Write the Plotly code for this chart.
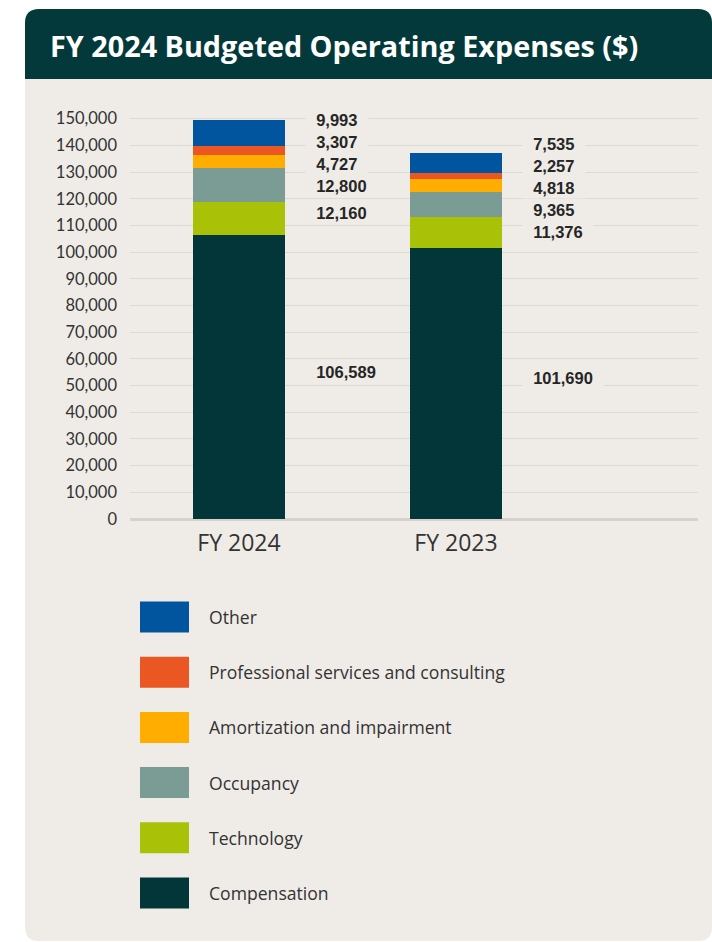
import plotly.graph_objects as go

# ---- data -------------------------------------------------------------
categories = ["FY 2024", "FY 2023"]
series_names = [
    "Compensation",
    "Technology",
    "Occupancy",
    "Amortization and impairment",
    "Professional services and consulting",
    "Other",
]
compensation = [106589, 101690]
technology = [12160, 11376]
occupancy = [12800, 9365]
amortization = [4727, 4818]
professional = [3307, 2257]
other = [9993, 7535]
series_colors = ["#023638", "#A9C208", "#7A9C95", "#FFAE00", "#EB5722", "#01559E"]
y_tick_values = list(range(0, 150001, 10000))

series_values = [compensation, technology, occupancy, amortization, professional, other]

# ---- page geometry (pixels) --------------------------------------------
FIG_W, FIG_H = 712, 942
PLOT_L, PLOT_R, PLOT_T, PLOT_B = 130, 698, 100, 519
PLOT_W, PLOT_H = PLOT_R - PLOT_L, PLOT_B - PLOT_T
Y_MAX = 157000
UNITS_PER_PX = Y_MAX / PLOT_H

CARD_BG = "#EFECE8"
HEADER_BG = "#03393A"
TEXT_DARK = "#262626"
TEXT_MID = "#333333"
NBSP = "\u00a0"


def px(x):
    return (x - PLOT_L) / PLOT_W


def py(y):
    return (PLOT_B - y) / PLOT_H


def rounded_path(x0, y0, x1, y1, r, bottom_round=True):
    """SVG path (paper coords) for a rectangle given in pixels."""
    rb = r if bottom_round else 0
    pts = [
        f"M {px(x0 + r)} {py(y0)}",
        f"L {px(x1 - r)} {py(y0)}",
        f"Q {px(x1)} {py(y0)} {px(x1)} {py(y0 + r)}",
        f"L {px(x1)} {py(y1 - rb)}",
        f"Q {px(x1)} {py(y1)} {px(x1 - rb)} {py(y1)}",
        f"L {px(x0 + rb)} {py(y1)}",
        f"Q {px(x0)} {py(y1)} {px(x0)} {py(y1 - rb)}",
        f"L {px(x0)} {py(y0 + r)}",
        f"Q {px(x0)} {py(y0)} {px(x0 + r)} {py(y0)}",
        "Z",
    ]
    return " ".join(pts)


def spread_labels(mids, min_gap):
    """Push label centres apart so neighbouring labels keep min_gap."""
    clusters = [[m] for m in sorted(mids)]
    pos = {}

    def layout(cl):
        centre = sum(cl) / len(cl)
        start = centre - min_gap * (len(cl) - 1) / 2
        return [start + i * min_gap for i in range(len(cl))]

    changed = True
    while changed:
        changed = False
        for i in range(len(clusters) - 1):
            a, b = layout(clusters[i]), layout(clusters[i + 1])
            if b[0] - a[-1] < min_gap - 1e-6:
                clusters[i] = clusters[i] + clusters[i + 1]
                del clusters[i + 1]
                changed = True
                break
    for cl in clusters:
        for m, p in zip(cl, layout(cl)):
            pos[m] = p
    return [pos[m] for m in mids]


fig = go.Figure()

BAR_WIDTH = 92 / 217
for name, color, vals in zip(series_names, series_colors, series_values):
    fig.add_trace(
        go.Bar(
            x=categories,
            y=vals,
            name=name,
            marker=dict(color=color, line=dict(width=0)),
            width=BAR_WIDTH,
            showlegend=False,
            hoverinfo="skip",
        )
    )

# ---- value labels beside each stack ------------------------------------
LABEL_FONT = dict(family="Liberation Sans, Arial", size=16.5, color=TEXT_DARK, weight="bold")
annotations = []
for ci, cat in enumerate(categories):
    base = 0
    mids = []
    for vals in series_values:
        mids.append(base + vals[ci] / 2)
        base += vals[ci]
    label_y = spread_labels(mids, 22 * UNITS_PER_PX)
    for vals, ly in zip(series_values, label_y):
        annotations.append(
            dict(
                x=cat,
                y=ly,
                xref="x",
                yref="y",
                text=NBSP * 2 + f"{vals[ci]:,}" + NBSP * 2,
                showarrow=False,
                xanchor="left",
                yanchor="middle",
                xshift=46 + 31 - 11,
                yshift=5,
                font=LABEL_FONT,
                bgcolor=CARD_BG,
                borderpad=1,
            )
        )

# ---- title -------------------------------------------------------------
annotations.append(
    dict(
        x=px(48),
        y=py(45),
        xref="paper",
        yref="paper",
        text="<b>FY 2024 Budgeted Operating Expenses ($)</b>",
        showarrow=False,
        xanchor="left",
        yanchor="middle",
        font=dict(family="Open Sans, sans-serif", size=28.8, color="#FFFFFF"),
    )
)

# ---- legend (large swatches) -------------------------------------------
shapes = [
    dict(type="path", path=rounded_path(25, 9, 712, 941, 14), xref="paper", yref="paper",
         fillcolor=CARD_BG, line=dict(width=0), layer="below"),
    dict(type="path", path=rounded_path(25, 9, 712, 79, 14, bottom_round=False), xref="paper",
         yref="paper", fillcolor=HEADER_BG, line=dict(width=0), layer="below"),
]

legend_order = list(zip(series_names, series_colors))[::-1]
for k, (name, color) in enumerate(legend_order):
    cy = 617 + 55.2 * k
    shapes.append(
        dict(type="rect", xref="paper", yref="paper",
             x0=px(140), x1=px(189), y0=py(cy - 15.5), y1=py(cy + 15.5),
             fillcolor=color, line=dict(width=0), layer="above")
    )
    annotations.append(
        dict(
            x=px(207), y=py(cy), xref="paper", yref="paper",
            text=name, showarrow=False, xanchor="left", yanchor="middle",
            font=dict(family="Open Sans, sans-serif", size=17.6, color=TEXT_MID),
        )
    )

fig.update_layout(
    width=FIG_W,
    height=FIG_H,
    autosize=False,
    margin=dict(l=PLOT_L, r=FIG_W - PLOT_R, t=PLOT_T, b=FIG_H - PLOT_B, pad=0),
    paper_bgcolor="#FFFFFF",
    plot_bgcolor="rgba(0,0,0,0)",
    barmode="stack",
    bargap=0,
    showlegend=False,
    shapes=shapes,
    annotations=annotations,
    xaxis=dict(
        type="category",
        range=[-(239 - PLOT_L) / 217, (PLOT_R - 239) / 217],
        showgrid=False,
        showline=False,
        zeroline=False,
        ticks="",
        ticklabelstandoff=8,
        tickfont=dict(family="Open Sans, sans-serif", size=23, color=TEXT_MID),
        fixedrange=True,
    ),
    yaxis=dict(
        range=[0, Y_MAX],
        tickvals=y_tick_values,
        tickformat=",d",
        showgrid=True,
        gridcolor="#DDD9D3",
        gridwidth=1.3,
        zeroline=True,
        zerolinecolor="#D5D1CB",
        zerolinewidth=2.5,
        showline=False,
        ticks="",
        ticklabelstandoff=12,
        tickfont=dict(family="Lato, Open Sans, sans-serif", size=16.5, color=TEXT_MID),
        fixedrange=True,
    ),
)

fig.write_html("out.html", config={"displayModeBar": False})
